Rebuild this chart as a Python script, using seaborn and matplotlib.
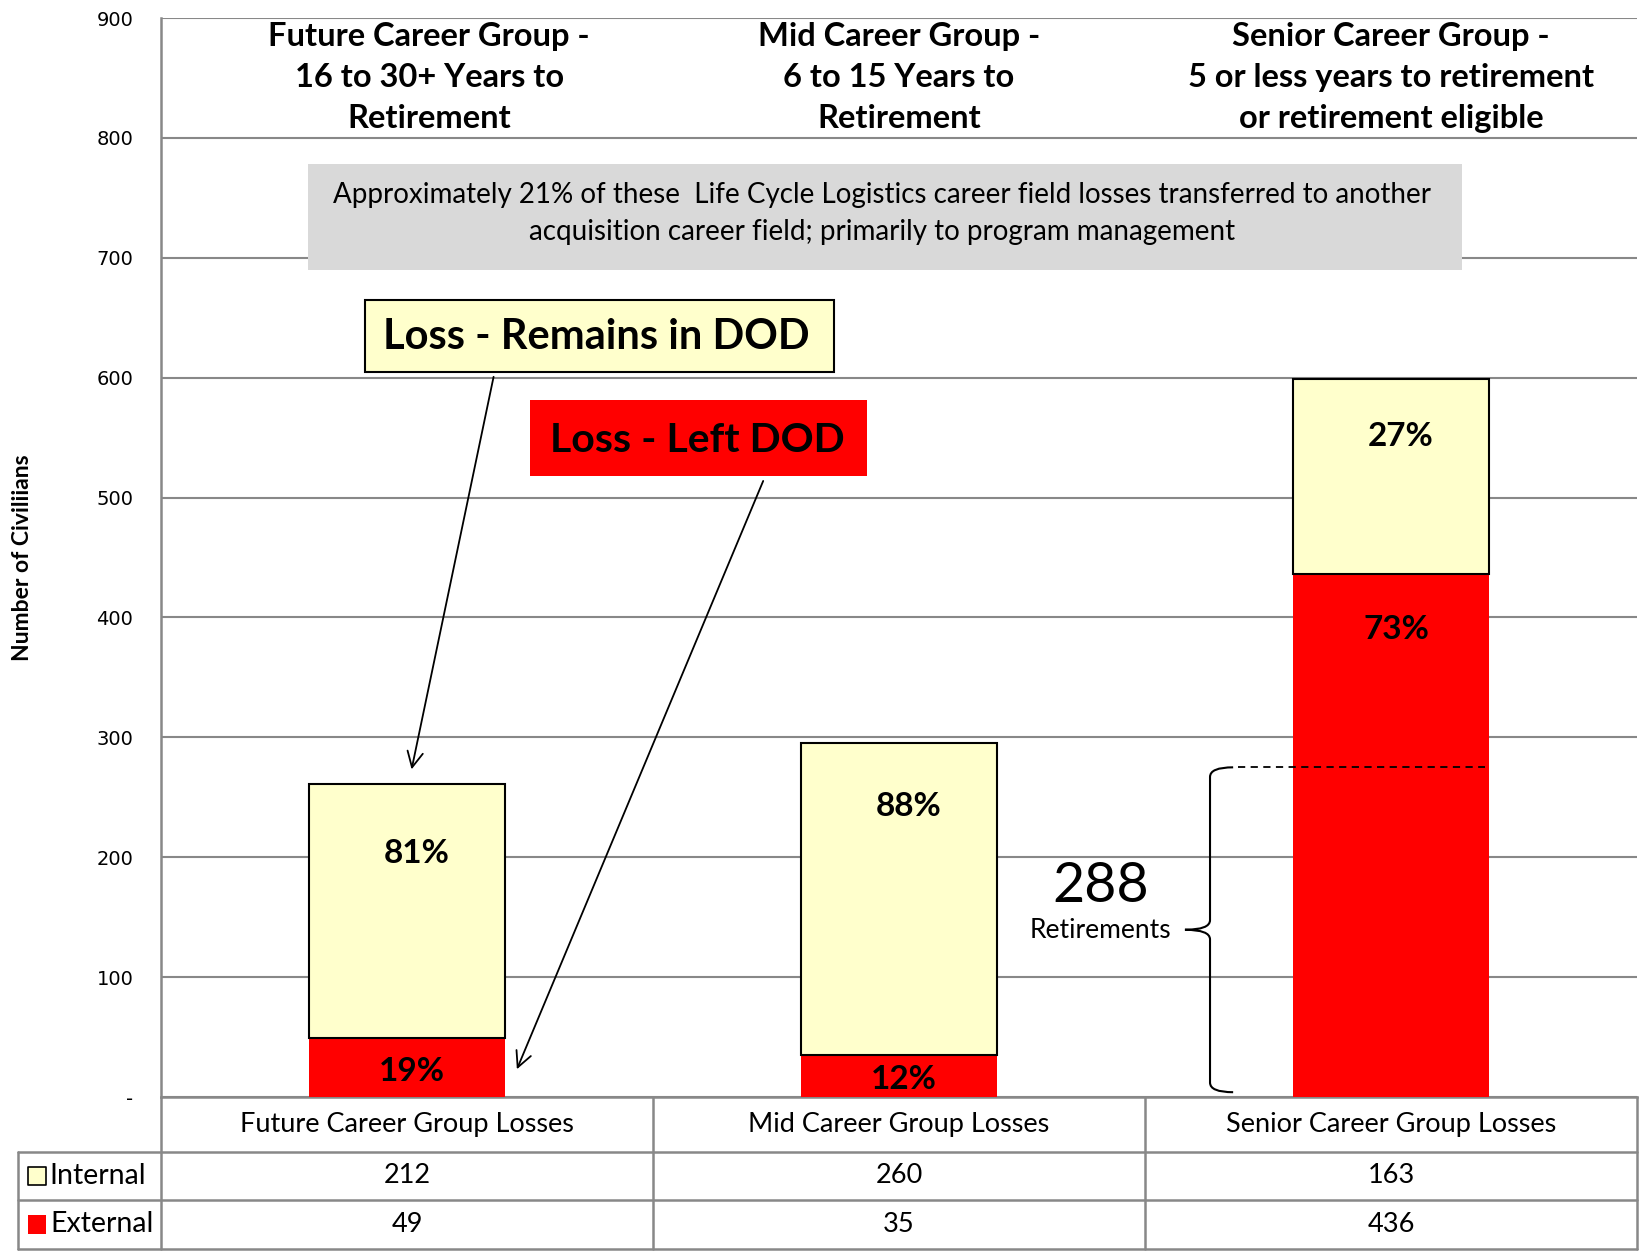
import matplotlib.pyplot as plt
import seaborn as sns
from matplotlib.patches import Rectangle, PathPatch
from matplotlib.path import Path

# data
groups = ["Future Career Group Losses", "Mid Career Group Losses", "Senior Career Group Losses"]
internal = [212, 260, 163]
external = [49, 35, 436]
internal_pct = ["81%", "88%", "27%"]
external_pct = ["19%", "12%", "73%"]
headers = ["Future Career Group -\n16 to 30+ Years to\nRetirement",
           "Mid Career Group -\n6 to 15 Years to\nRetirement",
           "Senior Career Group -\n5 or less years to retirement\nor retirement eligible"]
yticks = [0, 100, 200, 300, 400, 500, 600, 700, 800, 900]
ytick_labels = ["-", "100", "200", "300", "400", "500", "600", "700", "800", "900"]
retirements = 288
retire_top = 275  # where the brace/dashed line sits on the chart

YELLOW = "#FFFFCC"
RED = "#FF0000"
GRID = "#888888"
FONT = ["Lato", "DejaVu Sans"]

sns.set_style("white")
plt.rcParams["font.family"] = FONT
plt.rcParams["text.color"] = "black"
plt.rcParams["ytick.color"] = "black"
plt.rcParams["axes.labelcolor"] = "black"

fig = plt.figure(figsize=(16.42, 12.53), dpi=100)
ax = fig.add_axes([0.0981, 0.1245, 0.8989, 0.8611])

# stacked bars: external at the bottom, internal on top
sns.barplot(x=groups, y=external, color=RED, saturation=1, width=0.4,
            linewidth=0, ax=ax, zorder=3)
ax.bar(range(len(groups)), internal, bottom=external, width=0.4,
       color=YELLOW, edgecolor="black", linewidth=1.5, zorder=3)

ax.set_xlim(-0.5, 2.5)
ax.set_ylim(0, 900)
ax.set_xticks([])
ax.set_xlabel("")
ax.set_yticks(yticks)
ax.set_yticklabels(ytick_labels, family="DejaVu Sans", fontsize=14)
ax.tick_params(axis="y", length=0, pad=20)
ax.yaxis.grid(True, color=GRID, linewidth=1.5, zorder=0)
ax.set_axisbelow(True)
for s in ["top", "right"]:
    ax.spines[s].set_visible(False)
for s in ["left", "bottom"]:
    ax.spines[s].set_color(GRID)
    ax.spines[s].set_linewidth(1.8)

fig.text(0.014, 0.555, "Number of Civiliians", rotation=90, ha="center", va="center",
         fontsize=16.5, fontweight="bold")

# group headers at the top
header_x = [0.045, 1.0, 2.0]
for hx, h in zip(header_x, headers):
    ax.text(hx, 850, h, ha="center", va="center", fontsize=23.5, fontweight="bold",
            linespacing=1.5)

# percentage labels
int_label_y = [203, 242, 551]
ext_label_y = [21, 15, 390]
for i in range(len(groups)):
    ax.text(i + 0.02, int_label_y[i], internal_pct[i], ha="center", va="center",
            fontsize=24, fontweight="bold", zorder=5)
    ax.text(i + 0.01, ext_label_y[i], external_pct[i], ha="center", va="center",
            fontsize=24, fontweight="bold", zorder=5)

# gray note box
ax.add_patch(Rectangle((-0.202, 690), 2.347, 88, facecolor="#D9D9D9", edgecolor="none", zorder=4))
ax.text(0.965, 737, "Approximately 21% of these  Life Cycle Logistics career field losses transferred to another\n"
        "acquisition career field; primarily to program management",
        ha="center", va="center", fontsize=20, linespacing=1.55, zorder=5)

# legend-style callout boxes
ax.add_patch(Rectangle((-0.085, 605), 0.953, 60, facecolor=YELLOW, edgecolor="black",
                       linewidth=1.5, zorder=4))
ax.text(0.385, 634, "Loss - Remains in DOD", ha="center", va="center", fontsize=30,
        fontweight="bold", zorder=5)
ax.add_patch(Rectangle((0.249, 518), 0.685, 63, facecolor=RED, edgecolor="none", zorder=4))
ax.text(0.59, 548, "Loss - Left DOD", ha="center", va="center", fontsize=29.5,
        fontweight="bold", zorder=5)

arrow = dict(arrowstyle="->", color="black", lw=1.3, mutation_scale=28)
ax.annotate("", xy=(0.008, 271), xytext=(0.177, 603), arrowprops=arrow, zorder=6)
ax.annotate("", xy=(0.221, 21), xytext=(0.726, 516), arrowprops=arrow, zorder=6)

# brace showing retirements
xb, xe, xt = 1.632, 1.679, 1.581
top, bot = retire_top, 4
mid = (top + bot) / 2
r = 8
verts = [(xe, top), (xb, top), (xb, top - r),
         (xb, mid + r), (xb, mid), (xt, mid),
         (xb, mid), (xb, mid - r),
         (xb, bot + r), (xb, bot), (xe, bot)]
codes = [Path.MOVETO, Path.CURVE3, Path.CURVE3,
         Path.LINETO, Path.CURVE3, Path.CURVE3,
         Path.CURVE3, Path.CURVE3,
         Path.LINETO, Path.CURVE3, Path.CURVE3]
ax.add_patch(PathPatch(Path(verts, codes), facecolor="none", edgecolor="black", lw=1.5, zorder=6))
ax.plot([xe + 0.01, 2.19], [top, top], color="black", ls=(0, (4, 3)), lw=1.3, zorder=6)
ax.text(1.409, 176, str(retirements), ha="center", va="center", fontsize=40, zorder=5)
ax.text(1.41, 139, "Retirements", ha="center", va="center", fontsize=19, zorder=5)

# data table under the chart (y in pixels from the bottom of the table)
tax = fig.add_axes([0.0981, 0.0032, 0.8989, 0.1213])
tax.set_xlim(-0.5, 2.5)
tax.set_ylim(0, 152)
tax.axis("off")
row_edges = [0, 49, 97, 152]
row_mid = [(row_edges[k] + row_edges[k + 1]) / 2 for k in range(3)]
left = -0.79
line = dict(color=GRID, lw=1.8, clip_on=False)
for yy in row_edges[:3]:
    tax.plot([left, 2.5], [yy, yy], **line)
tax.plot([left, left], [0, row_edges[2]], **line)
for xx in [-0.5, 0.5, 1.5, 2.5]:
    tax.plot([xx, xx], [0, row_edges[3]], **line)

for i, g in enumerate(groups):
    tax.text(i, row_mid[2], g, ha="center", va="center", fontsize=19.5)
    tax.text(i, row_mid[1], str(internal[i]), ha="center", va="center", fontsize=19.5)
    tax.text(i, row_mid[0], str(external[i]), ha="center", va="center", fontsize=19.5)

tax.scatter([-0.752], [row_mid[1]], marker="s", s=150, color=YELLOW, edgecolor="black",
            linewidth=1.2, clip_on=False)
tax.scatter([-0.752], [row_mid[0]], marker="s", s=170, color=RED, edgecolor="none", clip_on=False)
tax.text(-0.728, row_mid[1], "Internal", ha="left", va="center", fontsize=20.5)
tax.text(-0.724, row_mid[0], "External", ha="left", va="center", fontsize=20.5)

fig.savefig("out.png", dpi=100)
